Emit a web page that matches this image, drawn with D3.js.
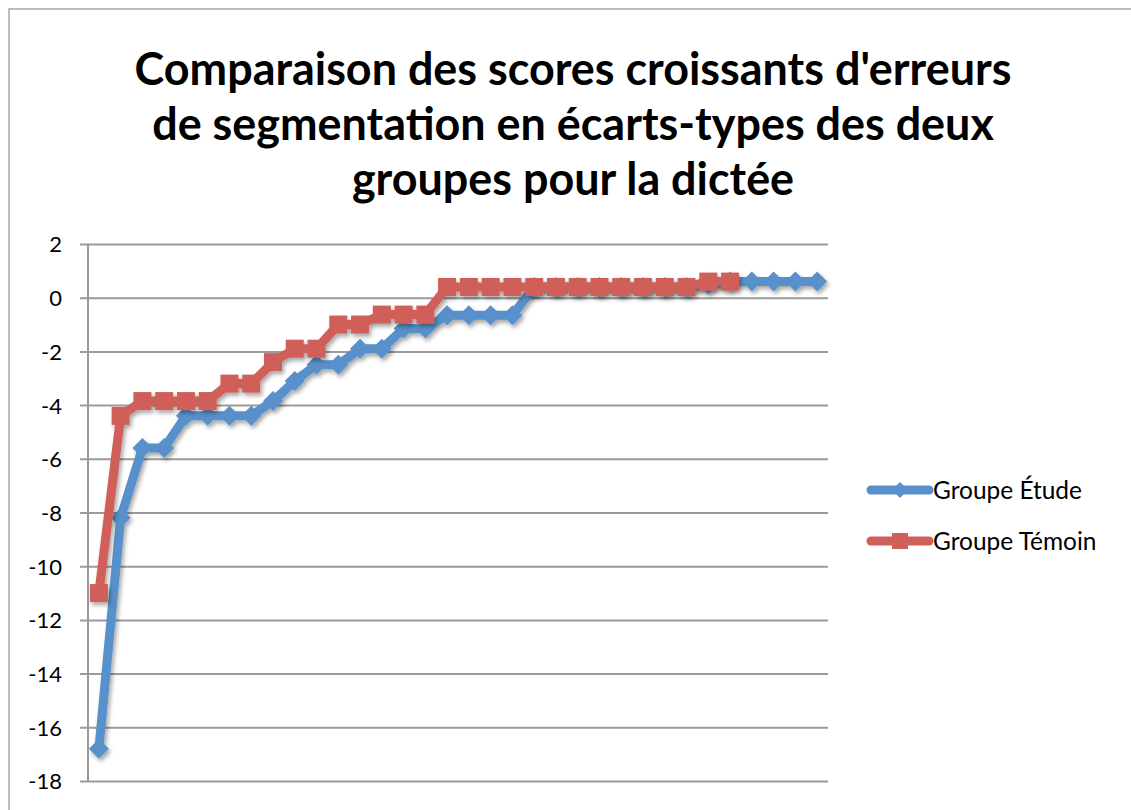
<!DOCTYPE html>
<html>
<head>
<meta charset="utf-8">
<script src="https://cdn.jsdelivr.net/npm/d3@7"></script>
<style>
  body { margin: 0; background: #fff; }
  text { font-family: Lato, "Open Sans", sans-serif; fill: #000; }
</style>
</head>
<body>
<svg id="chart" width="1131" height="810"></svg>
<script>
var titleLines = ["Comparaison des scores croissants d'erreurs",
  "de segmentation en écarts-types des deux",
  "groupes pour la dictée"];
var seriesNames = ["Groupe Étude", "Groupe Témoin"];
var yTicks = [2, 0, -2, -4, -6, -8, -10, -12, -14, -16, -18];

// scores triés, en écarts-types
var etude = [-16.8, -8.2, -5.6, -5.6, -4.4, -4.4, -4.4, -4.4, -3.85, -3.1,
  -2.5, -2.5, -1.9, -1.9, -1.15, -1.15, -0.65, -0.65, -0.65, -0.65,
  0.4, 0.4, 0.4, 0.4, 0.4, 0.4, 0.4, 0.4, 0.5, 0.6, 0.6, 0.6, 0.6, 0.6];
var temoin = [-11.0, -4.4, -3.85, -3.85, -3.85, -3.85, -3.2, -3.2, -2.4, -1.9,
  -1.9, -1.0, -1.0, -0.63, -0.63, -0.63, 0.4, 0.4, 0.4, 0.4,
  0.4, 0.4, 0.4, 0.4, 0.4, 0.4, 0.4, 0.4, 0.6, 0.6];

var colors = ["#5890cb", "#cf5f59"];
var margin = { top: 244, left: 88, right: 303, bottom: 29 };
var W = 1131, H = 810;

var svg = d3.select("#chart");

var defs = svg.append("defs");
var f = defs.append("filter").attr("id", "shadow")
  .attr("x", "-20%").attr("y", "-20%").attr("width", "140%").attr("height", "140%");
f.append("feDropShadow").attr("dx", 2).attr("dy", 3)
  .attr("stdDeviation", 2).attr("flood-color", "#000").attr("flood-opacity", 0.35);

// cadre
svg.append("rect")
  .attr("x", 9).attr("y", 9).attr("width", 1140).attr("height", 820)
  .attr("fill", "none").attr("stroke", "#a6a6a6").attr("stroke-width", 1.5);

var x = d3.scaleBand()
  .domain(d3.range(etude.length))
  .range([margin.left, W - margin.right]);

var y = d3.scaleLinear()
  .domain([-18, 2])
  .range([H - margin.bottom, margin.top]);

// grille + axe y
var yAxis = d3.axisLeft(y)
  .tickValues(yTicks)
  .tickSize(-(W - margin.right - margin.left))
  .tickPadding(18)
  .tickFormat(function (d) { return String(d); }); // trait d'union, pas le signe moins

var gy = svg.append("g")
  .attr("transform", "translate(" + margin.left + ",0)")
  .call(yAxis);
gy.select(".domain").remove();
gy.selectAll(".tick line")
  .attr("x1", -8)
  .attr("stroke", "#9b9b9b").attr("stroke-width", 2);
gy.selectAll(".tick text")
  .style("font-family", "Lato, sans-serif")
  .style("font-size", "22px")
  .attr("fill", "#000")
  .attr("x", -26)
  .attr("dy", "0.36em");

svg.append("line")
  .attr("x1", margin.left).attr("x2", margin.left)
  .attr("y1", y(2)).attr("y2", y(-18))
  .attr("stroke", "#9b9b9b").attr("stroke-width", 2);

// séries
var line = d3.line()
  .x(function (d, i) { return x(i) + x.bandwidth() / 2; })
  .y(function (d) { return y(d); });

var diamond = "M0,-10L10,0L0,10L-10,0Z";
var square = "M-9,-9H9V9H-9Z";

[etude, temoin].forEach(function (data, k) {
  var g = svg.append("g").attr("filter", "url(#shadow)");
  g.append("path")
    .datum(data)
    .attr("d", line)
    .attr("fill", "none")
    .attr("stroke", colors[k])
    .attr("stroke-width", 9)
    .attr("stroke-linejoin", "round")
    .attr("stroke-linecap", "round");
  g.selectAll(".marker")
    .data(data)
    .enter().append("path")
    .attr("class", "marker")
    .attr("transform", function (d, i) {
      return "translate(" + (x(i) + x.bandwidth() / 2) + "," + y(d) + ")";
    })
    .attr("d", k == 0 ? diamond : square)
    .attr("fill", colors[k]);
});

// légende
var leg = svg.append("g");
seriesNames.forEach(function (name, k) {
  var ly = 490 + k * 51;
  leg.append("line")
    .attr("x1", 871).attr("x2", 929)
    .attr("y1", ly).attr("y2", ly)
    .attr("stroke", colors[k]).attr("stroke-width", 9)
    .attr("stroke-linecap", "round");
  leg.append("path")
    .attr("transform", "translate(900," + ly + ")")
    .attr("d", k == 0 ? "M0,-8L8,0L0,8L-8,0Z" : "M-8,-8H8V8H-8Z")
    .attr("fill", colors[k]);
  leg.append("text")
    .attr("x", 933).attr("y", ly)
    .attr("dy", "0.35em")
    .style("font-size", "20px")
    .text(name);
});
// "Groupe Étude" fait ~149px dans l'original
var lw = leg.select("text").node().getComputedTextLength();
leg.selectAll("text").style("font-size", (20 * 149 / lw) + "px");

// titre
var title = svg.append("g");
titleLines.forEach(function (t, i) {
  title.append("text")
    .attr("x", 573).attr("y", 85 + i * 55)
    .attr("text-anchor", "middle")
    .style("font-size", "40px")
    .style("font-weight", "bold")
    .text(t);
});
// ajuste la taille pour que la 1re ligne fasse ~877px de large
var w0 = title.select("text").node().getComputedTextLength();
title.selectAll("text").style("font-size", (40 * 877 / w0) + "px");
</script>
</body>
</html>
